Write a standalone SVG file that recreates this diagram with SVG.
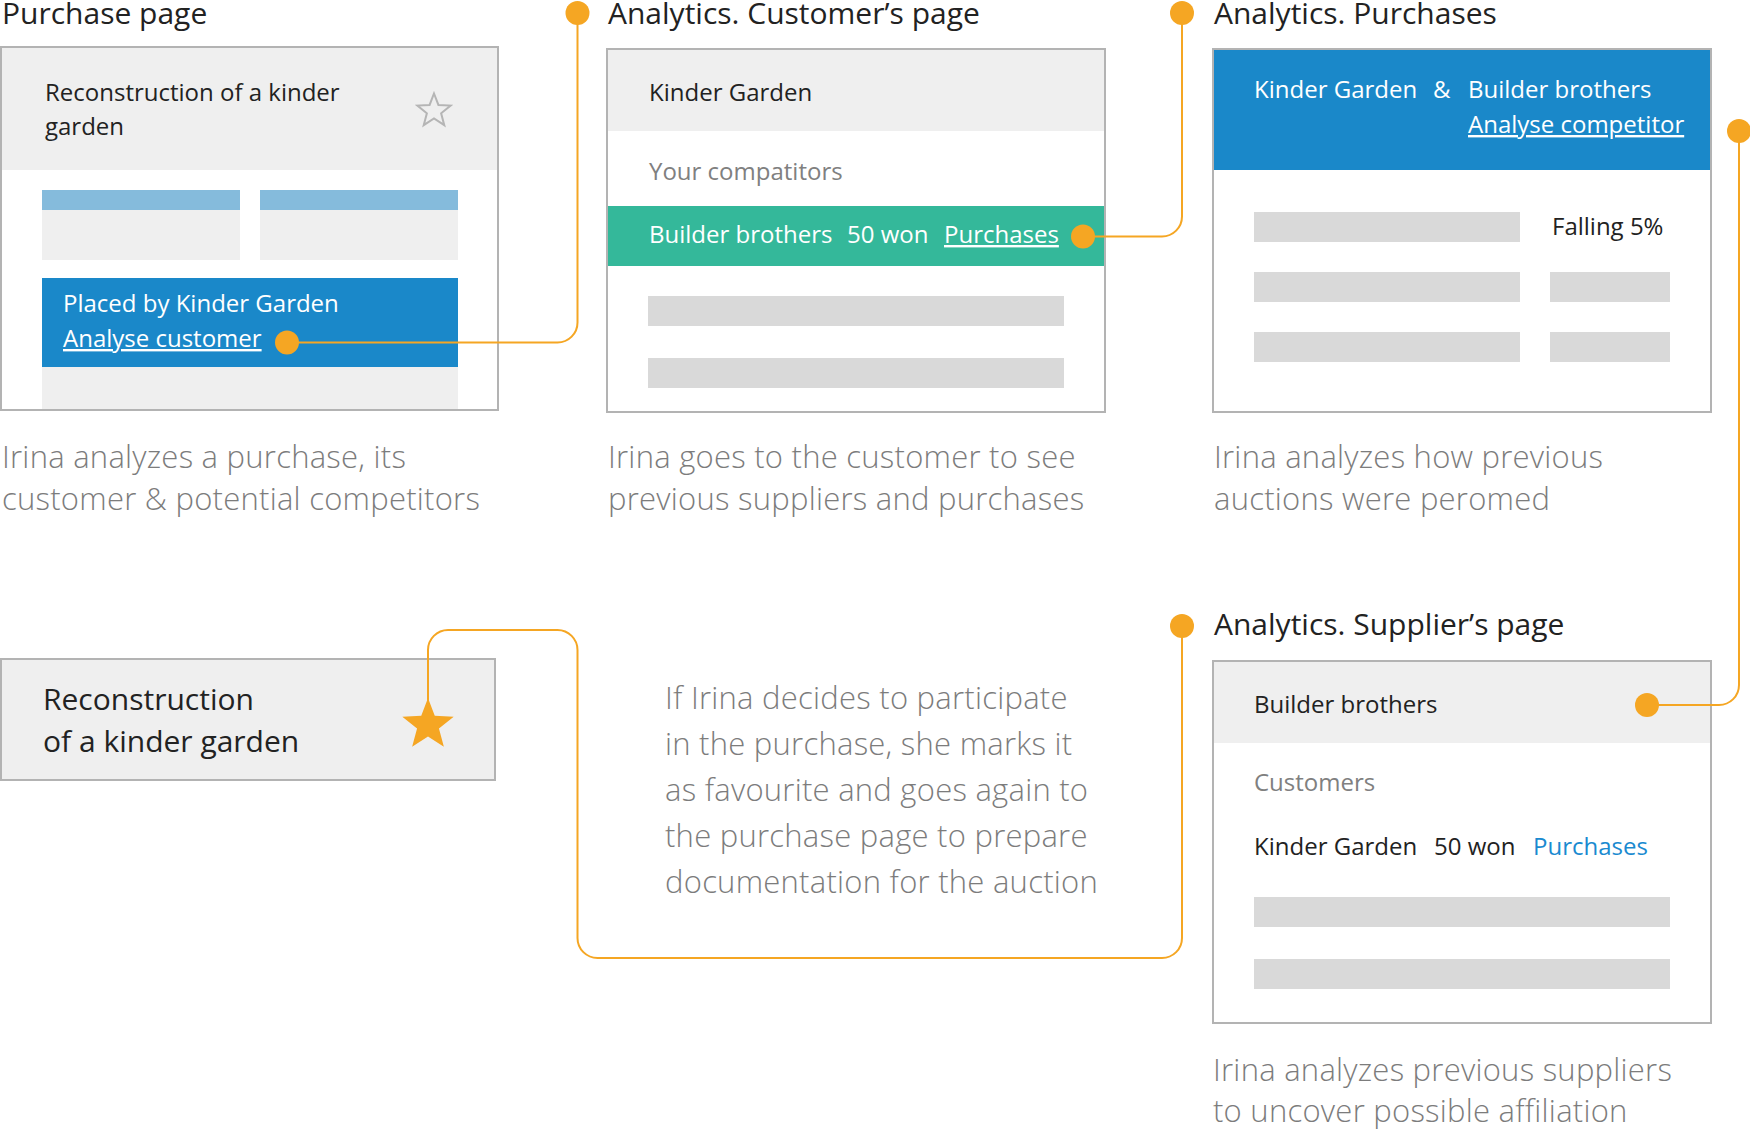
<svg xmlns="http://www.w3.org/2000/svg" width="1750" height="1132" viewBox="0 0 1750 1132">
<style>
text{font-family:"Open Sans","Noto Sans",sans-serif}
.title{font-size:30px;fill:#222}
.frame{fill:none;stroke:#b3b3b3;stroke-width:2}
.hdr{fill:#efefef}
.bar{fill:#d9d9d9}
.lbar{fill:#85bbdc}
.blue{fill:#1a88c9}
.green{fill:#34b89a}
.bt{font-size:24px;fill:#222}
.wt{font-size:24px;fill:#fff}
.gt{font-size:24px;fill:#808080}
.link{text-decoration:underline}
.cap{font-size:31px;fill:#7c7c7c;font-weight:300;letter-spacing:0.25px}
.conn{fill:none;stroke:#f5a623;stroke-width:2}
.dot{fill:#f5a623}
</style>
<rect width="1750" height="1132" fill="#fff"/>

<g id="purchase-page">
<text class="title" x="2" y="24">Purchase page</text>
<rect x="1" y="47" width="497" height="363" fill="#fff"/>
<rect class="hdr" x="1" y="47" width="497" height="123"/>
<text class="bt" x="45" y="101">Reconstruction of a kinder</text>
<text class="bt" x="45" y="135">garden</text>
<polygon points="434,93.5 438.41,104.93 450.64,105.59 441.13,113.32 444.29,125.16 434,118.5 423.71,125.16 426.87,113.32 417.36,105.59 429.59,104.93" fill="none" stroke="#b5b5b5" stroke-width="2" stroke-linejoin="miter"/>
<rect class="lbar" x="42" y="190" width="198" height="20"/>
<rect class="hdr" x="42" y="210" width="198" height="50"/>
<rect class="lbar" x="260" y="190" width="198" height="20"/>
<rect class="hdr" x="260" y="210" width="198" height="50"/>
<rect class="blue" x="42" y="278" width="416" height="89"/>
<rect class="hdr" x="42" y="367" width="416" height="43"/>
<text class="wt" x="63" y="312">Placed by Kinder Garden</text>
<text class="wt link" x="63" y="347">Analyse customer</text>
<rect class="frame" x="1" y="47" width="497" height="363"/>
<text class="cap" x="2" y="468">Irina analyzes a purchase, its</text>
<text class="cap" x="2" y="510">customer &amp; potential competitors</text>
</g>

<g id="customer-page">
<text class="title" x="608" y="24">Analytics. Customer’s page</text>
<rect x="607" y="49" width="498" height="363" fill="#fff"/>
<rect class="hdr" x="607" y="49" width="498" height="82"/>
<text class="bt" x="649" y="101">Kinder Garden</text>
<text class="gt" x="649" y="180">Your compatitors</text>
<rect class="green" x="607" y="206" width="498" height="60"/>
<text class="wt" x="649" y="243">Builder brothers</text>
<text class="wt" x="847" y="243">50 won</text>
<text class="wt link" x="944" y="243">Purchases</text>
<rect class="bar" x="648" y="296" width="416" height="30"/>
<rect class="bar" x="648" y="358" width="416" height="30"/>
<rect class="frame" x="607" y="49" width="498" height="363"/>
<text class="cap" x="608" y="468">Irina goes to the customer to see</text>
<text class="cap" x="608" y="510">previous suppliers and purchases</text>
</g>

<g id="purchases-analytics">
<text class="title" x="1214" y="24">Analytics. Purchases</text>
<rect x="1213" y="49" width="498" height="363" fill="#fff"/>
<rect class="blue" x="1213" y="49" width="498" height="121"/>
<text class="wt" x="1254" y="98">Kinder Garden</text>
<text class="wt" x="1433" y="98">&amp;</text>
<text class="wt" x="1468" y="98">Builder brothers</text>
<text class="wt link" x="1468" y="133">Analyse competitor</text>
<rect class="bar" x="1254" y="212" width="266" height="30"/>
<text class="bt" x="1552" y="235">Falling 5%</text>
<rect class="bar" x="1254" y="272" width="266" height="30"/>
<rect class="bar" x="1550" y="272" width="120" height="30"/>
<rect class="bar" x="1254" y="332" width="266" height="30"/>
<rect class="bar" x="1550" y="332" width="120" height="30"/>
<rect class="frame" x="1213" y="49" width="498" height="363"/>
<text class="cap" x="1214" y="468">Irina analyzes how previous</text>
<text class="cap" x="1214" y="510">auctions were peromed</text>
</g>

<g id="favourite">
<rect class="hdr" x="1" y="659" width="494" height="121"/>
<rect class="frame" x="1" y="659" width="494" height="121"/>
<text class="title" x="43" y="710">Reconstruction</text>
<text class="title" x="43" y="752">of a kinder garden</text>
</g>

<g id="decision-note">
<text class="cap" x="665" y="709">If Irina decides to participate</text>
<text class="cap" x="665" y="755">in the purchase, she marks it</text>
<text class="cap" x="665" y="801">as favourite and goes again to</text>
<text class="cap" x="665" y="847">the purchase page to prepare</text>
<text class="cap" x="665" y="893">documentation for the auction</text>
</g>

<g id="supplier-page">
<text class="title" x="1214" y="635">Analytics. Supplier’s page</text>
<rect x="1213" y="661" width="498" height="362" fill="#fff"/>
<rect class="hdr" x="1213" y="661" width="498" height="82"/>
<text class="bt" x="1254" y="713">Builder brothers</text>
<text class="gt" x="1254" y="791">Customers</text>
<text class="bt" x="1254" y="855">Kinder Garden</text>
<text class="bt" x="1434" y="855">50 won</text>
<text class="bt" x="1533" y="855" style="fill:#1a8ad0">Purchases</text>
<rect class="bar" x="1254" y="897" width="416" height="30"/>
<rect class="bar" x="1254" y="959" width="416" height="30"/>
<rect class="frame" x="1213" y="661" width="498" height="362"/>
<text class="cap" x="1213" y="1081">Irina analyzes previous suppliers</text>
<text class="cap" x="1213" y="1122">to uncover possible affiliation</text>
</g>

<g id="connectors">
<path class="conn" d="M287,342.5 H557.5 A20,20 0 0 0 577.5,322.5 V13"/>
<path class="conn" d="M1083,236.5 H1162 A20,20 0 0 0 1182,216.5 V13"/>
<path class="conn" d="M1739,131 V685 A20,20 0 0 1 1719,705 H1647"/>
<path class="conn" d="M1182,626 V938 A20,20 0 0 1 1162,958 H597.5 A20,20 0 0 1 577.5,938 V650 A20,20 0 0 0 557.5,630 H448 A20,20 0 0 0 428,650 V702"/>
<circle class="dot" cx="577.5" cy="13" r="12"/>
<circle class="dot" cx="287" cy="342.5" r="12"/>
<circle class="dot" cx="1182" cy="13" r="12"/>
<circle class="dot" cx="1083" cy="236.5" r="12"/>
<circle class="dot" cx="1739" cy="131" r="12"/>
<circle class="dot" cx="1647" cy="705" r="12"/>
<circle class="dot" cx="1182" cy="626" r="12"/>
</g>

<g id="favourite-star">
<polygon class="dot" points="428,698 434.76,715.7 453.68,716.66 438.94,728.55 443.87,746.84 428,736.5 412.13,746.84 417.06,728.55 402.32,716.66 421.24,715.7"/>
</g>
</svg>
